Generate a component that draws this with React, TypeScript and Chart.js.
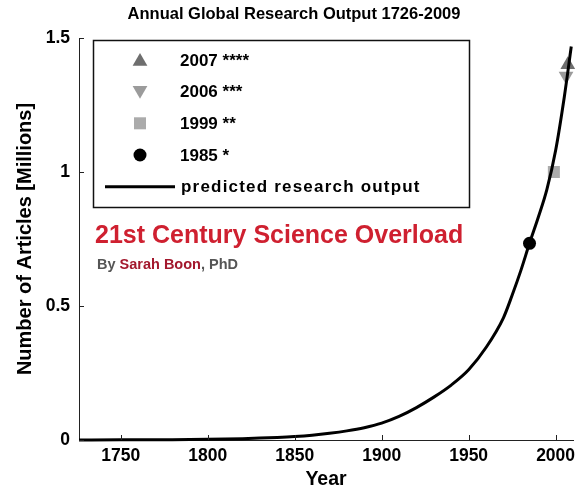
import React, { useEffect, useRef } from "react";
import { Chart, registerables } from "chart.js";

Chart.register(...registerables);

const titleText = "Annual Global Research Output 1726-2009";
const xAxisTitle = "Year";
const yAxisTitle = "Number of Articles [Millions]";
const xMin = 1726;
const xMax = 2010;
const yMin = 0;
const yMax = 1.5;
const xTickValues = [1750, 1800, 1850, 1900, 1950, 2000];
const yTickValues = [0, 0.5, 1, 1.5];

const curveLabel = "predicted research output";
const curveYears = [1726, 1750, 1775, 1800, 1820, 1830, 1840, 1850, 1860, 1870, 1880, 1890, 1900, 1910, 1920, 1930, 1940, 1950, 1960, 1970, 1975, 1980, 1985, 1990, 1995, 2000, 2005, 2009];
const curveValues = [0.0002, 0.0005, 0.0012, 0.0025, 0.005, 0.007, 0.0095, 0.013, 0.018, 0.025, 0.034, 0.046, 0.063, 0.088, 0.121, 0.16, 0.205, 0.262, 0.345, 0.456, 0.54, 0.632, 0.734, 0.83, 0.935, 1.08, 1.28, 1.468];

const markerLabels = ["2007 ****", "2006 ***", "1999 **", "1985 *"];
const markerYears = [2007, 2006, 1999, 1985];
const markerValues = [1.4, 1.358, 1.0, 0.734];

const headline = "21st Century Science Overload";
const bylineParts = ["By ", "Sarah Boon", ", PhD"];

const FONT = "'Liberation Sans', Arial, Helvetica, sans-serif";

type MarkerStyle = { shape: "tri" | "rect" | "circle"; rotation: number; color: string; radius: number };
const markerStyles: MarkerStyle[] = [
  { shape: "tri", rotation: 0, color: "#6e6e6e", radius: 8.5 },
  { shape: "tri", rotation: 180, color: "#9b9b9b", radius: 8.5 },
  { shape: "rect", rotation: 0, color: "#ababab", radius: 8.5 },
  { shape: "circle", rotation: 0, color: "#000000", radius: 6.5 },
];
const chartPointStyle = (s: MarkerStyle) => (s.shape === "tri" ? "triangle" : s.shape === "rect" ? "rect" : "circle");

function drawMarker(ctx: CanvasRenderingContext2D, s: MarkerStyle, x: number, y: number) {
  ctx.save();
  ctx.fillStyle = s.color;
  ctx.beginPath();
  const r = s.radius;
  if (s.shape === "tri") {
    let rad = (s.rotation * Math.PI) / 180;
    ctx.moveTo(x + Math.sin(rad) * r, y - Math.cos(rad) * r);
    rad += (2 * Math.PI) / 3;
    ctx.lineTo(x + Math.sin(rad) * r, y - Math.cos(rad) * r);
    rad += (2 * Math.PI) / 3;
    ctx.lineTo(x + Math.sin(rad) * r, y - Math.cos(rad) * r);
    ctx.closePath();
  } else if (s.shape === "rect") {
    const h = Math.SQRT1_2 * r;
    ctx.rect(x - h, y - h, 2 * h, 2 * h);
  } else {
    ctx.arc(x, y, r, 0, Math.PI * 2);
  }
  ctx.fill();
  ctx.restore();
}

const overlayPlugin = {
  id: "overlay",
  afterDraw(chart: any) {
    const ctx: CanvasRenderingContext2D = chart.ctx;
    const xs = chart.scales.x;
    const ys = chart.scales.y;
    const area = chart.chartArea;
    ctx.save();
    // inward tick marks
    ctx.strokeStyle = "#222";
    ctx.lineWidth = 1;
    ctx.beginPath();
    xTickValues.forEach((v) => {
      const px = Math.round(xs.getPixelForValue(v)) + 0.5;
      ctx.moveTo(px, area.bottom);
      ctx.lineTo(px, area.bottom - 5);
    });
    yTickValues.forEach((v) => {
      const py = Math.round(ys.getPixelForValue(v)) + 0.5;
      ctx.moveTo(area.left, py);
      ctx.lineTo(area.left + 5, py);
    });
    ctx.stroke();

    // legend box
    const bx = 93, by = 40, bw = 376, bh = 167;
    ctx.fillStyle = "#fff";
    ctx.fillRect(bx, by, bw, bh);
    ctx.strokeStyle = "#111";
    ctx.lineWidth = 1.5;
    ctx.strokeRect(bx + 0.5, by + 0.5, bw, bh);

    const rows = [60, 91.7, 123.3, 155, 186.7];
    const offsets = [1.5, -1.5, 0, 0];
    ctx.font = `bold 17px ${FONT}`;
    ctx.textBaseline = "middle";
    ctx.textAlign = "left";
    markerLabels.forEach((label, i) => {
      drawMarker(ctx, markerStyles[i], 140, rows[i] + offsets[i]);
      ctx.fillStyle = "#000";
      ctx.fillText(label, 180, rows[i] + 1);
    });
    ctx.strokeStyle = "#000";
    ctx.lineWidth = 3;
    ctx.beginPath();
    ctx.moveTo(105, rows[4]);
    ctx.lineTo(175, rows[4]);
    ctx.stroke();
    ctx.fillStyle = "#000";
    (ctx as any).letterSpacing = "1.2px";
    ctx.fillText(curveLabel, 181, rows[4] + 1);
    (ctx as any).letterSpacing = "0px";

    // headline
    ctx.textBaseline = "alphabetic";
    ctx.font = `bold 25px ${FONT}`;
    ctx.fillStyle = "#cf2030";
    ctx.fillText(headline, 95, 243);

    // byline
    ctx.font = `bold 14.5px ${FONT}`;
    let x = 97;
    const colors = ["#555555", "#a3182d", "#555555"];
    bylineParts.forEach((part, i) => {
      ctx.fillStyle = colors[i];
      ctx.fillText(part, x, 269);
      x += ctx.measureText(part).width;
    });
    ctx.restore();
  },
};

export default function App() {
  const ref = useRef<HTMLCanvasElement>(null);
  useEffect(() => {
    const canvas = ref.current;
    if (!canvas) return;
    const datasets: any[] = [
      {
        label: curveLabel,
        data: curveYears.map((x, i) => ({ x, y: curveValues[i] })),
        borderColor: "#000",
        borderWidth: 3,
        pointRadius: 0,
        cubicInterpolationMode: "monotone",
        order: 0,
        clip: false,
      },
      ...markerLabels.map((label, i) => ({
        label,
        data: [{ x: markerYears[i], y: markerValues[i] }],
        showLine: false,
        pointStyle: chartPointStyle(markerStyles[i]),
        pointRotation: markerStyles[i].rotation,
        pointRadius: markerStyles[i].radius,
        pointBackgroundColor: markerStyles[i].color,
        pointBorderColor: markerStyles[i].color,
        pointBorderWidth: 0,
        backgroundColor: markerStyles[i].color,
        borderColor: markerStyles[i].color,
        order: 4 - i,
        clip: false,
      })),
    ];
    const chart = new Chart(canvas, {
      type: "line",
      data: { datasets },
      options: {
        animation: false,
        responsive: false,
        devicePixelRatio: 1,
        layout: { padding: { left: 15, right: 13, top: 0, bottom: 0 } },
        plugins: {
          legend: { display: false },
          tooltip: { enabled: false },
          title: {
            display: true,
            text: titleText,
            color: "#000",
            font: { family: FONT, size: 16.5, weight: "bold" },
            padding: { top: 5, bottom: 13.2 },
          },
        },
        scales: {
          x: {
            type: "linear",
            min: xMin,
            max: xMax,
            afterBuildTicks: (s: any) => {
              s.ticks = xTickValues.map((value) => ({ value }));
            },
            afterFit: (s: any) => {
              s.height = 51;
            },
            grid: { display: false, drawTicks: false },
            border: { display: true, color: "#222", width: 1 },
            ticks: {
              color: "#000",
              padding: 6,
              maxRotation: 0,
              font: { family: FONT, size: 17.5, weight: "bold" },
              callback: (v: any) => String(v),
            },
            title: {
              display: true,
              text: xAxisTitle,
              color: "#000",
              font: { family: FONT, size: 19.5, weight: "bold" },
              padding: { top: 0, bottom: 0 },
            },
          },
          y: {
            type: "linear",
            min: yMin,
            max: yMax,
            afterBuildTicks: (s: any) => {
              s.ticks = yTickValues.map((value) => ({ value }));
            },
            afterFit: (s: any) => {
              s.width = 64;
            },
            grid: { display: false, drawTicks: false },
            border: { display: true, color: "#222", width: 1 },
            ticks: {
              color: "#000",
              padding: 9,
              font: { family: FONT, size: 17.5, weight: "bold" },
              callback: (v: any) => String(v),
            },
            title: {
              display: true,
              text: yAxisTitle,
              color: "#000",
              font: { family: FONT, size: 20, weight: "bold", lineHeight: 1 },
              padding: { top: 0, bottom: 0 },
            },
          },
        },
      },
      plugins: [overlayPlugin],
    } as any);
    return () => chart.destroy();
  }, []);
  return (
    <div style={{ position: "fixed", left: 0, top: 0, width: 586, height: 491, background: "#fff" }}>
      <canvas ref={ref} width={586} height={491} style={{ display: "block" }} />
    </div>
  );
}
